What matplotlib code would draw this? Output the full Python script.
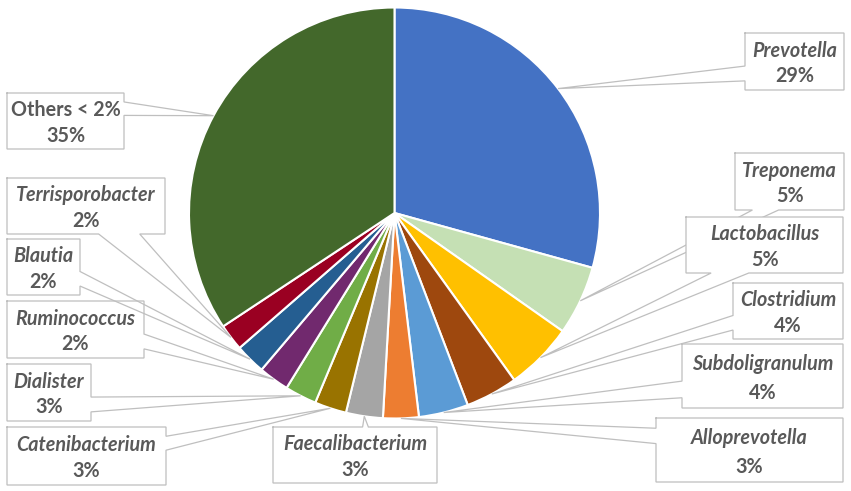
import matplotlib
matplotlib.use("Agg")
import matplotlib.pyplot as plt
from matplotlib.patches import Rectangle
import numpy as np

# Daten (Anteile in %)
names = ["Prevotella", "Treponema", "Lactobacillus", "Clostridium", "Subdoligranulum",
         "Alloprevotella", "Faecalibacterium", "Catenibacterium", "Dialister",
         "Ruminococcus", "Blautia", "Terrisporobacter", "Others < 2%"]
values = [29.3, 5.45, 5.35, 4.1, 3.9, 2.8, 2.9, 2.5, 2.5, 2.4, 2.4, 2.1, 34.3]
pct_labels = ["29%", "5%", "5%", "4%", "4%", "3%", "3%", "3%", "3%", "2%", "2%", "2%", "35%"]
colors = ["#4472C4", "#C5E0B4", "#FFC000", "#9E480E", "#5B9BD5", "#ED7D31", "#A5A5A5",
          "#997300", "#70AD47", "#71296E", "#255E91", "#9A0022", "#43682B"]

# Label-Boxen in Pixeln (x0, y0, x1, y1)
boxes = [(745, 33, 844, 90), (735, 153, 844, 210), (686, 217, 843, 273),
         (733, 283, 843, 339), (682, 344, 843, 408), (656, 418, 843, 482),
         (273, 427, 437, 483), (7, 427, 166, 485), (7, 364, 91, 421),
         (7, 301, 144, 358), (7, 239, 80, 295), (7, 178, 165, 234),
         (7, 93, 124, 149)]

cx, cy, r = 394.5, 213, 205.5
text_col = "#595959"
line_col = "#BFBFBF"

fig = plt.figure(figsize=(8.51, 4.91), dpi=100)
ax = fig.add_axes([0, 0, 1, 1])
wedges, _ = ax.pie(values, colors=colors, startangle=-90, counterclock=True,
                   center=(cx, cy), radius=r,
                   wedgeprops=dict(edgecolor="white", linewidth=1.5))
ax.set_xlim(0, 851)
ax.set_ylim(491, 0)
ax.set_aspect("equal")
ax.axis("off")


def callout_path(box, tip):
    x0, y0, x1, y1 = box
    w, h = x1 - x0, y1 - y0
    bx, by = (x0 + x1) / 2, (y0 + y1) / 2
    dx, dy = (tip[0] - bx) / (w / 2), (tip[1] - by) / (h / 2)
    if abs(dx) >= abs(dy):
        side = "right" if dx > 0 else "left"
        near = tip[1] < by
    else:
        side = "bottom" if dy > 0 else "top"
        near = tip[0] < bx
    f1, f2 = (0.16, 0.40) if near else (0.58, 0.84)
    # kurzer Zeiger direkt ueber/unter der Box
    if side in ("top", "bottom") and x0 < tip[0] < x1:
        dist = abs(tip[1] - (y0 if side == "top" else y1))
        if dist < 30:
            f1 = (tip[0] - x0) / w - 0.01
            f2 = (tip[0] - x0) / w + 0.025
    pts = [(x0, y0)]
    if side == "top":
        pts += [(x0 + f1 * w, y0), tip, (x0 + f2 * w, y0)]
    pts.append((x1, y0))
    if side == "right":
        pts += [(x1, y0 + f1 * h), tip, (x1, y0 + f2 * h)]
    pts.append((x1, y1))
    if side == "bottom":
        pts += [(x0 + f2 * w, y1), tip, (x0 + f1 * w, y1)]
    pts.append((x0, y1))
    if side == "left":
        pts += [(x0, y0 + f2 * h), tip, (x0, y0 + f1 * h)]
    pts.append((x0, y0))
    return pts


for i, (wd, box) in enumerate(zip(wedges, boxes)):
    mid = np.deg2rad((wd.theta1 + wd.theta2) / 2)
    tip = (cx + r * np.cos(mid), cy + r * np.sin(mid))
    z = 3 + i * 0.1
    x0, y0, x1, y1 = box
    ax.add_patch(Rectangle((x0, y0), x1 - x0, y1 - y0, facecolor="white",
                           edgecolor="none", zorder=z))
    pts = callout_path(box, tip)
    ax.plot([p[0] for p in pts], [p[1] for p in pts], color=line_col,
            lw=0.9, zorder=z + 0.01, solid_joinstyle="miter")
    xm = (x0 + x1) / 2
    h = y1 - y0
    style = "normal" if names[i].startswith("Others") else "italic"
    ax.text(xm, y0 + 0.31 * h, names[i], ha="center", va="center",
            fontsize=14.2, fontweight="bold", style=style, color=text_col,
            family="Lato", zorder=z + 0.02)
    ax.text(xm, y0 + 0.76 * h, pct_labels[i], ha="center", va="center",
            fontsize=14.2, fontweight="bold", color=text_col,
            family="Lato", zorder=z + 0.02)

fig.savefig("out.png", dpi=100, facecolor="white")
